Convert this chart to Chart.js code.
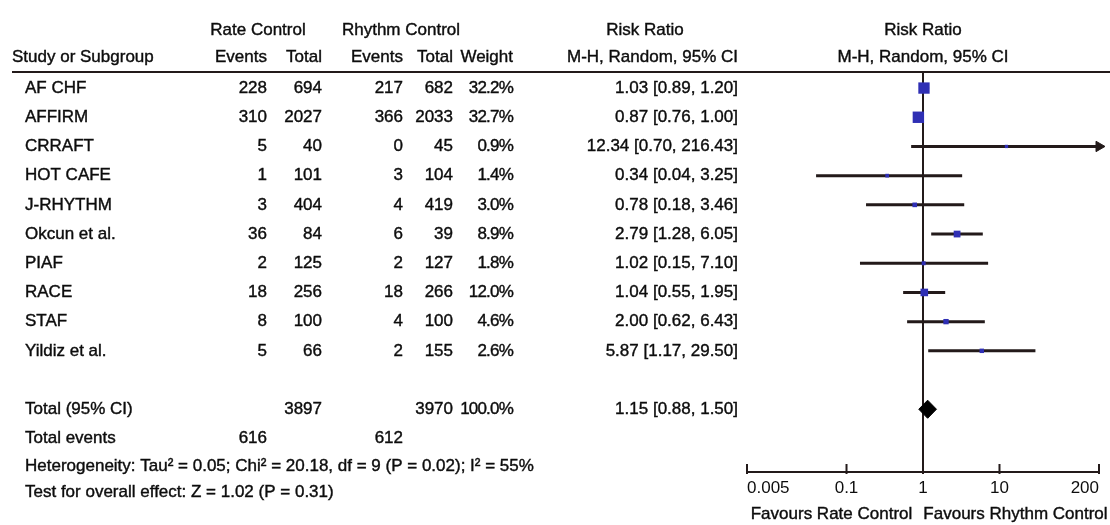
<!DOCTYPE html>
<html>
<head>
<meta charset="utf-8">
<script src="https://cdn.jsdelivr.net/npm/chart.js@4.4.1/dist/chart.umd.min.js"></script>
<style>
  html, body { margin: 0; padding: 0; background: #fff; }
  #forest { display: block; }
</style>
</head>
<body>
<canvas id="forest" width="1110" height="525"></canvas>
<script>
// Datos del forest plot
const studies = ['AF CHF', 'AFFIRM', 'CRRAFT', 'HOT CAFE', 'J-RHYTHM', 'Okcun et al.', 'PIAF', 'RACE', 'STAF', 'Yildiz et al.'];
const rateEvents = [228, 310, 5, 1, 3, 36, 2, 18, 8, 5];
const rateTotal = [694, 2027, 40, 101, 404, 84, 125, 256, 100, 66];
const rhythmEvents = [217, 366, 0, 3, 4, 6, 2, 18, 4, 2];
const rhythmTotal = [682, 2033, 45, 104, 419, 39, 127, 266, 100, 155];
const weights = [32.2, 32.7, 0.9, 1.4, 3.0, 8.9, 1.8, 12.0, 4.6, 2.6];
const riskRatio = [1.03, 0.87, 12.34, 0.34, 0.78, 2.79, 1.02, 1.04, 2.00, 5.87];
const ciLow = [0.89, 0.76, 0.70, 0.04, 0.18, 1.28, 0.15, 0.55, 0.62, 1.17];
const ciHigh = [1.20, 1.00, 216.43, 3.25, 3.46, 6.05, 7.10, 1.95, 6.43, 29.50];

const pooled = [1.15, 0.88, 1.50]; // RR, low, high
const totalN = [3897, 3970];
const totalEvents = [616, 612];
const heterogeneity = 'Heterogeneity: Tau\u00b2 = 0.05; Chi\u00b2 = 20.18, df = 9 (P = 0.02); I\u00b2 = 55%';
const overallTest = 'Test for overall effect: Z = 1.02 (P = 0.31)';

const tickValues = [0.005, 0.1, 1, 10, 200];
const tickLabels = ['0.005', '0.1', '1', '10', '200'];

const INK = '#231a1a';
const BLUE = '#2f2fb4';
const FAMILY = '"Liberation Sans", Arial, sans-serif';
const FONT = '17px ' + FAMILY;
const xMin = tickValues[0], xMax = tickValues[tickValues.length - 1];

// columnas (borde derecho)
const colRateEv = 267, colRateTot = 322, colRhyEv = 403, colRhyTot = 453, colWeight = 513, colRR = 738;

// filas: estudios 0..9, total en 11
const totalRow = 11, eventsRow = 12, hetRow = 12.95, testRow = 13.85;
const yMin = -0.55, yMax = 13.15;

const fmt = v => v.toFixed(2);

// segmentos IC (null separa cada estudio)
const ciData = [];
studies.forEach((s, i) => {
  ciData.push({ x: ciLow[i], y: i }, { x: ciHigh[i], y: i }, { x: null, y: null });
});
const pointData = studies.map((s, i) => ({ x: riskRatio[i], y: i }));
const arrowData = studies.map((s, i) => ciHigh[i] > xMax ? { x: xMax, y: i } : null).filter(Boolean);
const diamondData = [
  { x: pooled[1], y: totalRow },
  { x: pooled[0], y: totalRow - 0.31 },
  { x: pooled[2], y: totalRow },
  { x: pooled[0], y: totalRow + 0.31 },
  { x: pooled[1], y: totalRow }
];

// texto de la tabla a la izquierda y cabeceras
const tablePlugin = {
  id: 'tableText',
  afterDraw(chart) {
    const ctx = chart.ctx;
    const y = chart.scales.y;
    const x = chart.scales.x;
    const area = chart.chartArea;
    ctx.save();
    ctx.fillStyle = '#0d0d0d';
    ctx.strokeStyle = '#0d0d0d';
    ctx.lineWidth = 0.4;
    ctx.font = FONT;
    ctx.textBaseline = 'middle';

    const put = (txt, px, py, align, sp) => {
      ctx.letterSpacing = sp || '0px';
      ctx.textAlign = align;
      ctx.fillText(txt, px, py);
      ctx.strokeText(txt, px, py);
    };

    // cabeceras
    put('Rate Control', 258, 30, 'center');
    put('Rhythm Control', 401, 30, 'center');
    put('Risk Ratio', 645, 30, 'center');
    put('Risk Ratio', x.getPixelForValue(1), 30, 'center');
    put('Study or Subgroup', 12, 57, 'left');
    put('Events', colRateEv, 57, 'right');
    put('Total', colRateTot, 57, 'right');
    put('Events', colRhyEv, 57, 'right');
    put('Total', colRhyTot, 57, 'right');
    put('Weight', colWeight, 57, 'right');
    put('M-H, Random, 95% CI', colRR, 57, 'right');
    put('M-H, Random, 95% CI', x.getPixelForValue(1), 57, 'center');

    studies.forEach((s, i) => {
      const py = y.getPixelForValue(i);
      put(s, 25, py, 'left');
      put(String(rateEvents[i]), colRateEv, py, 'right');
      put(String(rateTotal[i]), colRateTot, py, 'right');
      put(String(rhythmEvents[i]), colRhyEv, py, 'right');
      put(String(rhythmTotal[i]), colRhyTot, py, 'right');
      put(weights[i].toFixed(1) + '%', colWeight, py, 'right', '-0.8px');
      put(fmt(riskRatio[i]) + ' [' + fmt(ciLow[i]) + ', ' + fmt(ciHigh[i]) + ']', colRR, py, 'right');
    });

    let py = y.getPixelForValue(totalRow);
    put('Total (95% CI)', 25, py, 'left');
    put(String(totalN[0]), colRateTot, py, 'right');
    put(String(totalN[1]), colRhyTot, py, 'right');
    put('100.0%', colWeight, py, 'right', '-0.8px');
    put(fmt(pooled[0]) + ' [' + fmt(pooled[1]) + ', ' + fmt(pooled[2]) + ']', colRR, py, 'right');

    py = y.getPixelForValue(eventsRow);
    put('Total events', 25, py, 'left');
    put(String(totalEvents[0]), colRateEv, py, 'right');
    put(String(totalEvents[1]), colRhyEv, py, 'right');

    put(heterogeneity, 25, y.getPixelForValue(hetRow), 'left');
    put(overallTest, 25, y.getPixelForValue(testRow), 'left');

    put('Favours Rate Control', x.getPixelForValue(0.1) - 15, 514, 'center');
    put('Favours Rhythm Control', x.getPixelForValue(10) + 16, 514, 'center');

    // línea de cabecera
    ctx.strokeStyle = INK;
    ctx.lineWidth = 2;
    ctx.beginPath();
    ctx.moveTo(12, area.top);
    ctx.lineTo(chart.width, area.top);
    ctx.stroke();

    // marcas del eje hacia arriba
    tickValues.forEach(v => {
      const px = x.getPixelForValue(v);
      ctx.beginPath();
      ctx.moveTo(px, area.bottom - 8);
      ctx.lineTo(px, area.bottom + 2);
      ctx.stroke();
    });
    ctx.restore();
  }
};

new Chart(document.getElementById('forest'), {
  type: 'scatter',
  data: {
    datasets: [
      {
        data: pointData,
        pointStyle: 'rect',
        pointRadius: weights.map(w => 1.2 + Math.sqrt(w) * 1.2),
        backgroundColor: BLUE,
        borderColor: BLUE,
        borderWidth: 0,
        order: 0
      },
      {
        data: arrowData,
        pointStyle: 'triangle',
        rotation: 90,
        pointRadius: 6,
        backgroundColor: INK,
        borderColor: INK,
        clip: false,
        order: 1
      },
      {
        data: diamondData,
        showLine: true,
        fill: 'shape',
        backgroundColor: '#000',
        borderColor: '#000',
        borderWidth: 1,
        pointRadius: 0,
        order: 1
      },
      {
        data: ciData,
        showLine: true,
        spanGaps: false,
        borderColor: INK,
        borderWidth: 3,
        pointRadius: 0,
        order: 2
      },
      {
        data: [{ x: 1, y: yMin }, { x: 1, y: yMax }],
        showLine: true,
        borderColor: INK,
        borderWidth: 2,
        pointRadius: 0,
        order: 3
      }
    ]
  },
  options: {
    responsive: false,
    animation: false,
    layout: { padding: { left: 747, right: 11, top: 72, bottom: 0 } },
    plugins: { legend: { display: false }, tooltip: { enabled: false } },
    scales: {
      x: {
        type: 'logarithmic',
        min: xMin,
        max: xMax,
        afterBuildTicks: s => { s.ticks = tickValues.map(v => ({ value: v })); },
        afterFit: s => { s.height = 53; },
        ticks: {
          align: 'inner',
          maxRotation: 0,
          autoSkip: false,
          padding: 6,
          color: '#0d0d0d',
          font: { family: FAMILY, size: 17 },
          callback: v => tickLabels[tickValues.indexOf(v)] ?? ''
        },
        grid: { drawOnChartArea: false, drawTicks: false },
        border: { display: true, color: INK, width: 2 }
      },
      y: {
        type: 'linear',
        display: false,
        reverse: true,
        min: yMin,
        max: yMax
      }
    }
  },
  plugins: [tablePlugin]
});
</script>
</body>
</html>
